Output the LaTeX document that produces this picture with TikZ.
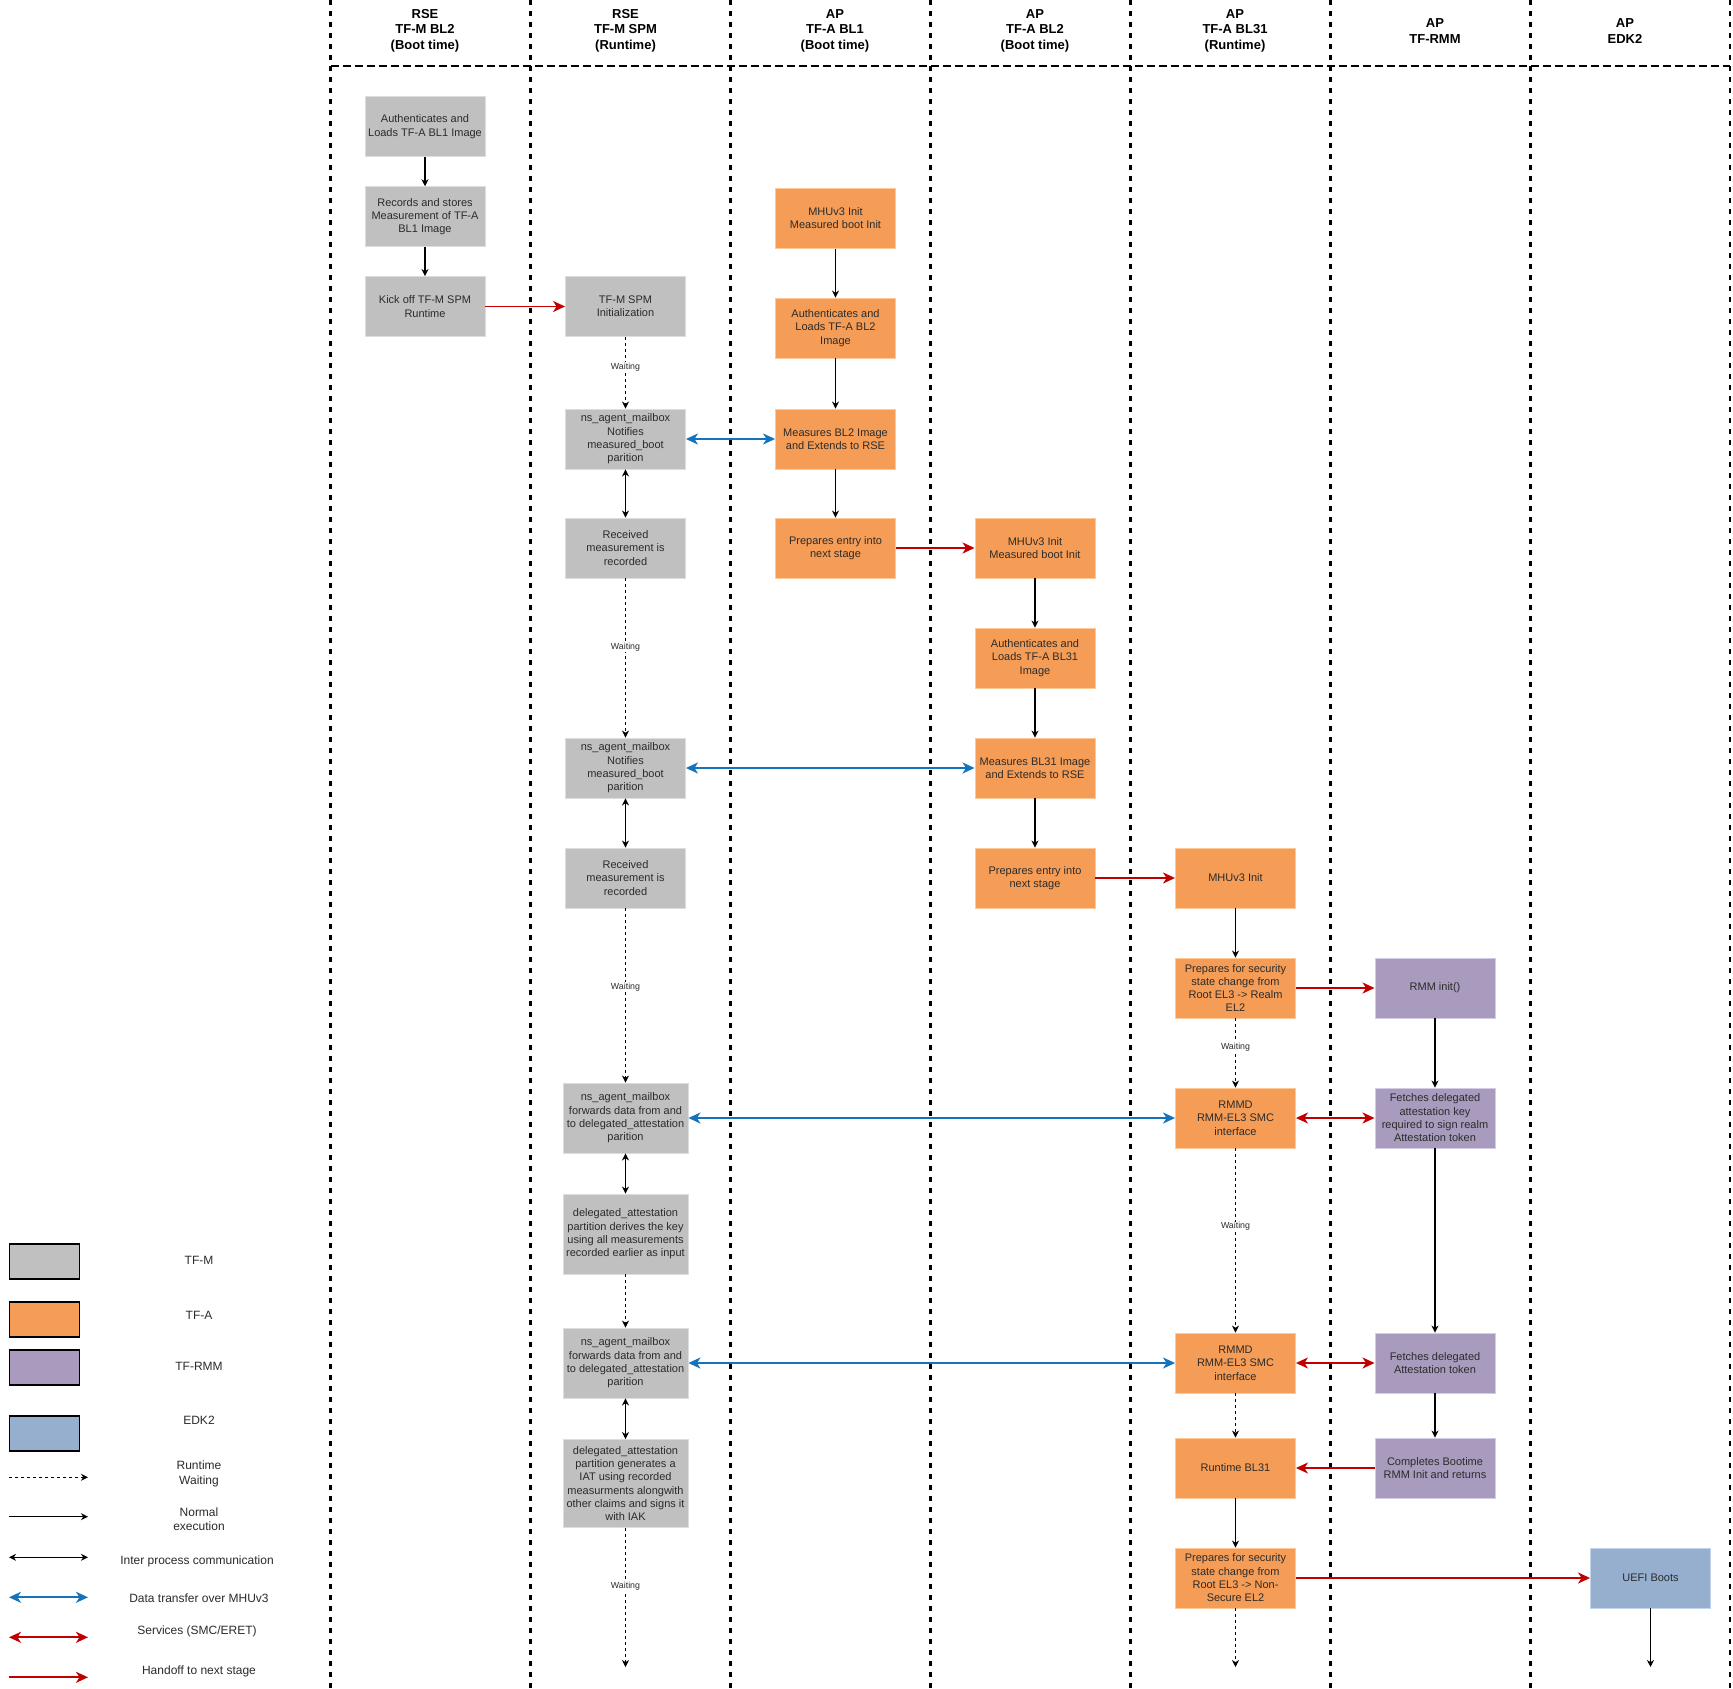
\documentclass[tikz,border=0pt]{standalone}
\usepackage{fontspec}
\setmainfont{Liberation Sans}
\usetikzlibrary{arrows.meta}
\definecolor{tfmfill}{HTML}{C0C0C0}
\definecolor{tfmline}{HTML}{DDDDDD}
\definecolor{tfafill}{HTML}{F59D56}
\definecolor{tfaline}{HTML}{FFC896}
\definecolor{rmmfill}{HTML}{A99BBD}
\definecolor{rmmline}{HTML}{D4CCE4}
\definecolor{edkfill}{HTML}{96AFCE}
\definecolor{edkline}{HTML}{C4D4EA}
\definecolor{bluec}{HTML}{1473B9}
\definecolor{redc}{HTML}{C00000}
\definecolor{txt}{HTML}{2B2B2B}
\tikzset{
  procbox/.style={rectangle, minimum width=120pt, minimum height=60pt, inner sep=0pt,
    align=center, font=\fontsize{11}{13.3}\selectfont, text=txt, line width=0.9pt},
  tfm/.style={procbox, fill=tfmfill, draw=tfmline},
  tfa/.style={procbox, fill=tfafill, draw=tfaline},
  rmm/.style={procbox, fill=rmmfill, draw=rmmline},
  edk/.style={procbox, fill=edkfill, draw=edkline},
  widebox/.style={minimum width=125pt},
  flow/.style={-{Stealth[length=7pt,width=7pt,inset=2.2pt]}, line width=1.1pt, draw=black},
  ipc/.style={{Stealth[length=7pt,width=7pt,inset=2.2pt]}-{Stealth[length=7pt,width=7pt,inset=2.2pt]}, line width=1.1pt, draw=black},
  waitarrow/.style={-{Stealth[length=7pt,width=7pt,inset=2.2pt]}, line width=0.9pt, dash pattern=on 3pt off 3pt, draw=black},
  mhu/.style={{Stealth[length=12pt,width=11pt,inset=3.5pt]}-{Stealth[length=12pt,width=11pt,inset=3.5pt]}, line width=1.8pt, draw=bluec},
  svc/.style={{Stealth[length=12pt,width=11pt,inset=3.5pt]}-{Stealth[length=12pt,width=11pt,inset=3.5pt]}, line width=1.8pt, draw=redc},
  hand/.style={-{Stealth[length=12pt,width=11pt,inset=3.5pt]}, line width=1.8pt, draw=redc},
  waitlbl/.style={fill=white, inner sep=1pt, font=\fontsize{8.8}{10}\selectfont, text=txt},
  lanetitle/.style={align=center, font=\fontsize{13}{15.6}\selectfont\bfseries, text=black, inner sep=0pt},
  laneline/.style={line width=2.1pt, dash pattern=on 5pt off 6pt, draw=black},
  headline/.style={line width=2pt, dash pattern=on 8pt off 4pt, draw=black},
  legbox/.style={rectangle, minimum width=70.5pt, minimum height=35pt, inner sep=0pt, draw=black, line width=1.2pt},
  legtxt/.style={align=center, font=\fontsize{12}{14.5}\selectfont, text=txt, inner sep=0pt},
}
\begin{document}
\begin{tikzpicture}[x=1pt,y=-1pt]
\useasboundingbox (0,0) rectangle (1733,1689);
\fill[white] (0,0) rectangle (1733,1689);

% swimlanes
\foreach \lx in {330.5,530.5,730.5,930.5,1130.5,1330.5,1530.5,1730}
  \draw[laneline] (\lx,0) -- (\lx,1689);
\draw[headline] (330.5,66) -- (1730,66);

\node[lanetitle] (h1) at (425,30.7) {RSE\\TF-M BL2\\(Boot time)};
\node[lanetitle] (h2) at (625.5,30.7) {RSE\\TF-M SPM\\(Runtime)};
\node[lanetitle] (h3) at (835,30.7) {AP\\TF-A BL1\\(Boot time)};
\node[lanetitle] (h4) at (1035,30.7) {AP\\TF-A BL2\\(Boot time)};
\node[lanetitle] (h5) at (1235,30.7) {AP\\TF-A BL31\\(Runtime)};
\node[lanetitle] (h6) at (1435,31.3) {AP\\TF-RMM};
\node[lanetitle] (h7) at (1625,31.3) {AP\\EDK2};

% column 1
\node[tfm] (a1) at (425,126.7) {Authenticates and\\Loads TF-A BL1 Image};
\node[tfm] (a2) at (425,216.7) {Records and stores\\Measurement of TF-A\\BL1 Image};
\node[tfm] (a3) at (425,306.5) {Kick off TF-M SPM\\Runtime};

% column 2
\node[tfm] (s1) at (625.5,306.5) {TF-M SPM\\Initialization};
\node[tfm] (s2) at (625.5,439) {ns\_agent\_mailbox\\Notifies\\measured\_boot\\parition};
\node[tfm] (s3) at (625.5,548) {Received\\measurement is\\recorded};
\node[tfm] (s4) at (625.5,768) {ns\_agent\_mailbox\\Notifies\\measured\_boot\\parition};
\node[tfm] (s5) at (625.5,878) {Received\\measurement is\\recorded};
\node[tfm, widebox, minimum height=70pt] (s6) at (625.5,1118) {ns\_agent\_mailbox\\forwards data from and\\to delegated\_attestation\\parition};
\node[tfm, widebox, minimum height=80pt] (s7) at (625.5,1234) {delegated\_attestation\\partition derives the key\\using all measurements\\recorded earlier as input};
\node[tfm, widebox, minimum height=70pt] (s8) at (625.5,1363) {ns\_agent\_mailbox\\forwards data from and\\to delegated\_attestation\\parition};
\node[tfm, widebox, minimum height=88pt] (s9) at (625.5,1483.5) {delegated\_attestation\\partition generates a\\IAT using recorded\\measurments alongwith\\other claims and signs it\\with IAK};
\coordinate (s9end) at (625.5,1667);

% column 3
\node[tfa] (b1) at (835.5,218.3) {MHUv3 Init\\Measured boot Init};
\node[tfa] (b2) at (835.5,328) {Authenticates and\\Loads TF-A BL2\\Image};
\node[tfa] (b3) at (835.5,439) {Measures BL2 Image\\and Extends to RSE};
\node[tfa] (b4) at (835.5,548) {Prepares entry into\\next stage};

% column 4
\node[tfa] (c1) at (1035,548) {MHUv3 Init\\Measured boot Init};
\node[tfa] (c2) at (1035,658) {Authenticates and\\Loads TF-A BL31\\Image};
\node[tfa] (c3) at (1035,768) {Measures BL31 Image\\and Extends to RSE};
\node[tfa] (c4) at (1035,878) {Prepares entry into\\next stage};

% column 5
\node[tfa] (d1) at (1235.5,878) {MHUv3 Init};
\node[tfa] (d2) at (1235.5,988) {Prepares for security\\state change from\\Root EL3 -> Realm\\EL2};
\node[tfa] (d3) at (1235.5,1118) {RMMD\\RMM-EL3 SMC\\interface};
\node[tfa] (d4) at (1235.5,1363) {RMMD\\RMM-EL3 SMC\\interface};
\node[tfa] (d5) at (1235.5,1468) {Runtime BL31};
\node[tfa] (d6) at (1235.5,1578) {Prepares for security\\state change from\\Root EL3 -> Non-\\Secure EL2};
\coordinate (d6end) at (1235.5,1667);

% column 6
\node[rmm] (e1) at (1435,988) {RMM init()};
\node[rmm] (e2) at (1435,1118) {Fetches delegated\\attestation key\\required to sign realm\\Attestation token};
\node[rmm] (e3) at (1435,1363) {Fetches delegated\\Attestation token};
\node[rmm] (e4) at (1435,1468) {Completes Bootime\\RMM Init and returns};

% column 7
\node[edk] (f1) at (1650.5,1578) {UEFI Boots};
\coordinate (f1end) at (1650.5,1667);

% connectors column 1
\draw[flow] (a1) -- (a2);
\draw[flow] (a2) -- (a3);
\draw[hand] (a3) -- (s1);

% connectors column 2
\draw[waitarrow] (s1) -- node[waitlbl, pos=0.42] (w1) {Waiting} (s2);
\draw[ipc] (s2) -- (s3);
\draw[waitarrow] (s3) -- node[waitlbl, pos=0.43] (w2) {Waiting} (s4);
\draw[ipc] (s4) -- (s5);
\draw[waitarrow] (s5) -- node[waitlbl, pos=0.45] (w3) {Waiting} (s6);
\draw[ipc] (s6) -- (s7);
\draw[waitarrow] (s7) -- (s8);
\draw[ipc] (s8) -- (s9);
\draw[waitarrow] (s9) -- node[waitlbl, pos=0.42] (w4) {Waiting} (s9end);

% data transfer over MHUv3
\draw[mhu] (s2) -- (b3);
\draw[mhu] (s4) -- (c3);
\draw[mhu] (s6) -- (d3);
\draw[mhu] (s8) -- (d4);

% column 3
\draw[flow] (b1) -- (b2);
\draw[flow] (b2) -- (b3);
\draw[flow] (b3) -- (b4);
\draw[hand] (b4) -- (c1);

% column 4
\draw[flow] (c1) -- (c2);
\draw[flow] (c2) -- (c3);
\draw[flow] (c3) -- (c4);
\draw[hand] (c4) -- (d1);

% column 5
\draw[flow] (d1) -- (d2);
\draw[hand] (d2) -- (e1);
\draw[waitarrow] (d2) -- node[waitlbl, pos=0.41] (w5) {Waiting} (d3);
\draw[svc] (d3) -- (e2);
\draw[waitarrow] (d3) -- node[waitlbl, pos=0.425] (w6) {Waiting} (d4);
\draw[svc] (d4) -- (e3);
\draw[waitarrow] (d4) -- (d5);
\draw[hand] (e4) -- (d5);
\draw[flow] (d5) -- (d6);
\draw[hand] (d6) -- (f1);
\draw[waitarrow] (d6) -- (d6end);

% column 6
\draw[flow] (e1) -- (e2);
\draw[flow] (e2) -- (e3);
\draw[flow] (e3) -- (e4);

% column 7
\draw[flow] (f1) -- (f1end);

% legend
\node[legbox, fill=tfmfill] (l1) at (44.5,1261.5) {};
\node[legbox, fill=tfafill] (l2) at (44.5,1319.5) {};
\node[legbox, fill=rmmfill] (l3) at (44.5,1367.5) {};
\node[legbox, fill=edkfill] (l4) at (44.5,1433.5) {};
\node[legtxt] (lt1) at (199,1260.7) {TF-M};
\node[legtxt] (lt2) at (199,1315.7) {TF-A};
\node[legtxt] (lt3) at (199,1366.7) {TF-RMM};
\node[legtxt] (lt4) at (199,1420.7) {EDK2};
\node[legtxt] (lt5) at (199,1474) {Runtime\\Waiting};
\node[legtxt] (lt6) at (199,1519) {Normal\\execution};
\node[legtxt] (lt7) at (197,1561.7) {Inter process communication};
\node[legtxt] (lt8) at (199,1598.3) {Data transfer over MHUv3};
\node[legtxt] (lt9) at (197,1631.7) {Services (SMC/ERET)};
\node[legtxt] (lt10) at (199,1671.7) {Handoff to next stage};

\coordinate (la1) at (9,1477.3);   \coordinate (lb1) at (88,1477.3);
\coordinate (la2) at (9,1516.7);   \coordinate (lb2) at (88,1516.7);
\coordinate (la3) at (9,1557.3);   \coordinate (lb3) at (88,1557.3);
\coordinate (la4) at (9,1597.3);   \coordinate (lb4) at (88,1597.3);
\coordinate (la5) at (9,1637.3);   \coordinate (lb5) at (88,1637.3);
\coordinate (la6) at (9,1677.3);   \coordinate (lb6) at (88,1677.3);
\draw[waitarrow] (la1) -- (lb1);
\draw[flow] (la2) -- (lb2);
\draw[ipc] (la3) -- (lb3);
\draw[mhu] (la4) -- (lb4);
\draw[svc] (la5) -- (lb5);
\draw[hand] (la6) -- (lb6);
\end{tikzpicture}
\end{document}
